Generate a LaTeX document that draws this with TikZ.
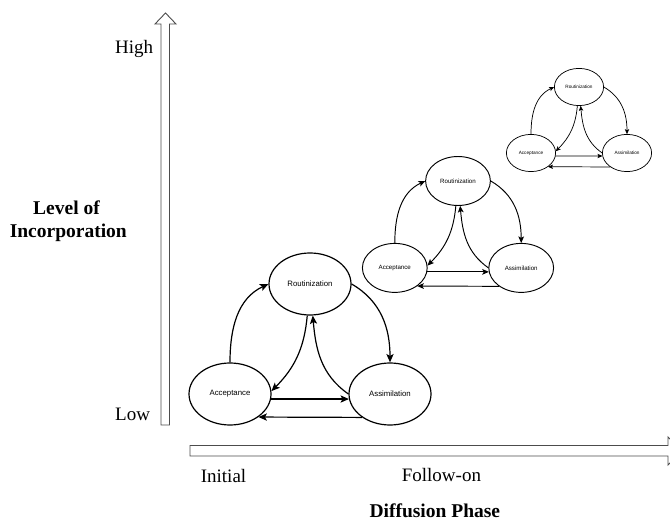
\documentclass[tikz,border=0pt]{standalone}
\usepackage{fontspec}
\setmainfont{Liberation Serif}
\setsansfont{Liberation Sans}
\usetikzlibrary{arrows.meta,shapes.geometric}

\begin{document}
\begin{tikzpicture}[x=1pt, y=-1pt,
  stage/.style={draw, ellipse, minimum width=82, minimum height=62, inner sep=0pt, font=\sffamily\fontsize{7.8}{9}\selectfont},
  flow/.style={-{Stealth[length=0pt 7, width=0pt 6, inset=0pt 1.6]}},
  axis/.style={draw=black!70, line width=0.9pt, fill=white, line join=miter},
  lab/.style={font=\fontsize{19}{22}\selectfont, anchor=base west},
  heading/.style={font=\bfseries\fontsize{19.5}{22}\selectfont, anchor=base}
]
\useasboundingbox (0,0) rectangle (670,521);
\clip (0,0) rectangle (670,521);

% axes
\draw[axis] (161,425) -- (161,24) -- (155,24) -- (165.5,13) -- (176,24) -- (169.5,24) -- (169.5,425) -- cycle;
\draw[axis] (190,445.5) -- (668,445.5) -- (668,437) -- (682,451) -- (668,465) -- (668,456) -- (190,456) -- cycle;

\node[lab] (high) at (111.7,53.3) {High};
\node[lab] (low) at (111.7,420.7) {Low};
\node[lab] (initial) at (197.3,482.3) {Initial};
\node[lab] (followon) at (398.3,481.7) {Follow-on};
\node[heading] (level) at (66.5,215) {Level of};
\node[heading] (incorp) at (68.3,237.3) {Incorporation};
\node[heading, anchor=base west] (phase) at (366,517.7) {Diffusion Phase};

% the three cycles, growing smaller
\foreach \n/\cx/\cy/\s in {big/310/284/1, mid/458/181/0.79, sml/579/87/0.6} {
  \begin{scope}[shift={(\cx,\cy)}, scale=\s, transform shape, line width=1.2pt*\s]
    \node[stage] (\n-rou) at (0,0) {Routinization};
    \node[stage] (\n-acc) at (-80,110) {Acceptance};
    \node[stage] (\n-ass) at (80,110) {Assimilation};
    \draw[flow] (\n-acc.north) to[out=90, in=205] (\n-rou.west);
    \draw[flow] (\n-rou.east) to[out=-30, in=90] (\n-ass.north);
    \draw[flow] (\n-rou.265) to[out=-95, in=45] (\n-acc.4);
    \draw[flow] (\n-ass.west) to[out=145, in=-85] (\n-rou.275);
    \draw[flow] (\n-acc.-7) -- (\n-ass.187);
    \draw[flow] (\n-ass.220) -- (\n-acc.-39);
  \end{scope}
}
\end{tikzpicture}
\end{document}
